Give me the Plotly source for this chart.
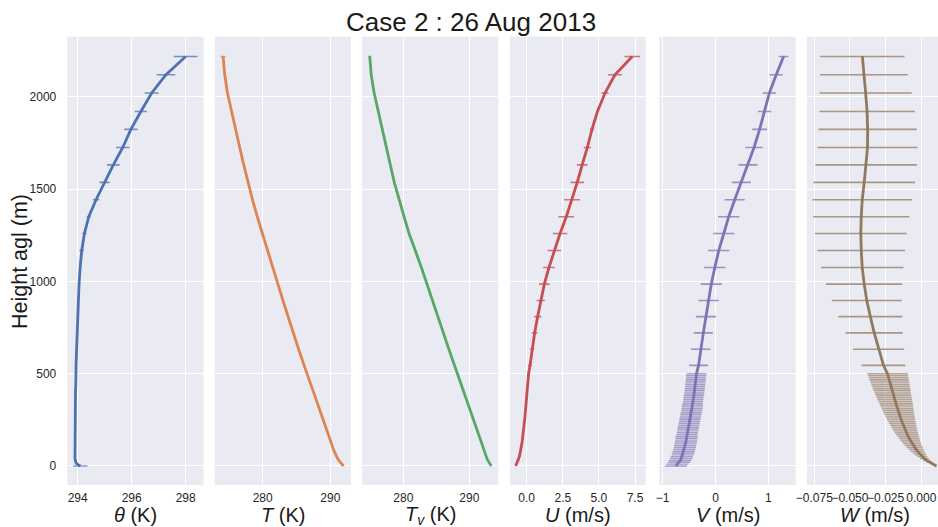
import plotly.graph_objects as go
from plotly.subplots import make_subplots

# Model levels (m above ground): 10 m spacing in the lowest 500 m, stretched above
HEIGHT = [0, 10, 20, 30, 40, 50, 60, 70, 80, 90, 100, 110, 120, 130, 140, 150, 160, 170,
          180, 190, 200, 210, 220, 230, 240, 250, 260, 270, 280, 290, 300, 310, 320, 330,
          340, 350, 360, 370, 380, 390, 400, 410, 420, 430, 440, 450, 460, 470, 480, 490,
          500, 545, 632, 721, 809, 896, 985, 1075, 1167, 1259, 1350, 1442, 1536, 1631,
          1725, 1823, 1920, 2020, 2119, 2218]
N_LOW = 51  # number of levels in the finely spaced surface layer

THETA = [294.10, 293.98, 293.93, 293.91, 293.90, 293.90, 293.90, 293.90, 293.90, 293.90,
         293.90, 293.90, 293.90, 293.90, 293.90, 293.90, 293.91, 293.91, 293.91, 293.91,
         293.91, 293.91, 293.91, 293.91, 293.91, 293.91, 293.91, 293.91, 293.91, 293.91,
         293.91, 293.92, 293.92, 293.92, 293.92, 293.92, 293.92, 293.92, 293.92, 293.92,
         293.92, 293.92, 293.92, 293.93, 293.93, 293.93, 293.93, 293.93, 293.93, 293.93,
         293.93, 293.94, 293.96, 293.98, 294.00, 294.02, 294.05, 294.09, 294.15, 294.25,
         294.41, 294.68, 294.99, 295.32, 295.67, 295.97, 296.34, 296.74, 297.27, 298.00]
THETA_ERR = [0.27] + [0.01] * 50 + [0.02, 0.02, 0.025, 0.025, 0.03, 0.035, 0.04, 0.087, 0.08,
                                      0.074, 0.117, 0.185, 0.235, 0.246, 0.246, 0.228, 0.26,
                                      0.346, 0.44]

T = [291.96, 291.68, 291.45, 291.25, 291.08, 290.93, 290.80, 290.68, 290.57, 290.47,
     290.37, 290.27, 290.18, 290.08, 289.99, 289.90, 289.80, 289.71, 289.62, 289.53,
     289.44, 289.34, 289.25, 289.16, 289.06, 288.96, 288.87, 288.77, 288.67, 288.57,
     288.48, 288.38, 288.28, 288.19, 288.09, 287.99, 287.90, 287.80, 287.70, 287.61,
     287.51, 287.41, 287.32, 287.22, 287.12, 287.03, 286.93, 286.83, 286.74, 286.64,
     286.54, 286.12, 285.31, 284.49, 283.72, 282.99, 282.25, 281.48, 280.70, 279.91,
     279.20, 278.49, 277.80, 277.20, 276.60, 275.98, 275.37, 274.79, 274.39, 274.14]
T_ERR = [0.0] * 68 + [0.12, 0.37]

TV = [293.33, 293.12, 292.95, 292.80, 292.67, 292.56, 292.46, 292.36, 292.27, 292.20,
      292.10, 292.00, 291.91, 291.81, 291.71, 291.61, 291.51, 291.41, 291.32, 291.22,
      291.12, 291.02, 290.92, 290.83, 290.73, 290.63, 290.53, 290.43, 290.33, 290.23,
      290.13, 290.03, 289.93, 289.83, 289.73, 289.63, 289.53, 289.43, 289.33, 289.23,
      289.14, 289.04, 288.94, 288.84, 288.74, 288.64, 288.54, 288.44, 288.34, 288.24,
      288.14, 287.72, 286.90, 286.07, 285.25, 284.45, 283.63, 282.74, 281.81, 280.87,
      280.11, 279.35, 278.63, 278.03, 277.43, 276.81, 276.19, 275.58, 275.14, 274.91]
TV_ERR = [0.0] * 68 + [0.08, 0.25]

U = [-0.76, -0.70, -0.64, -0.59, -0.55, -0.51, -0.48, -0.45, -0.42, -0.40,
     -0.38, -0.36, -0.34, -0.32, -0.30, -0.29, -0.27, -0.26, -0.24, -0.23,
     -0.21, -0.20, -0.18, -0.17, -0.16, -0.14, -0.13, -0.12, -0.10, -0.09,
     -0.08, -0.07, -0.06, -0.05, -0.04, -0.03, -0.02, -0.01, 0.00, 0.01,
     0.02, 0.03, 0.04, 0.05, 0.06, 0.07, 0.08, 0.09, 0.11, 0.12,
     0.13, 0.23, 0.37, 0.55, 0.76, 0.97, 1.22, 1.54, 1.91, 2.31,
     2.74, 3.14, 3.50, 3.84, 4.20, 4.52, 4.90, 5.42, 6.11, 7.31]
U_ERR = [0.0, 0.0, 0.005, 0.005, 0.005, 0.01, 0.01, 0.01, 0.01, 0.01,
         0.01, 0.01, 0.01, 0.01, 0.01, 0.01, 0.01, 0.01, 0.01, 0.01,
         0.015, 0.015, 0.015, 0.02, 0.02, 0.02, 0.02, 0.025, 0.025, 0.025,
         0.03, 0.03, 0.03, 0.035, 0.035, 0.035, 0.04, 0.04, 0.04, 0.045,
         0.045, 0.05, 0.05, 0.055, 0.055, 0.06, 0.06, 0.065, 0.07, 0.075,
         0.08, 0.12, 0.15, 0.20, 0.25, 0.29, 0.37, 0.40, 0.47, 0.50,
         0.54, 0.55, 0.46, 0.37, 0.25, 0.14, 0.05, 0.25, 0.48, 0.54]

V = [-0.75, -0.72, -0.69, -0.67, -0.65, -0.64, -0.62, -0.61, -0.60, -0.59,
     -0.58, -0.575, -0.57, -0.56, -0.555, -0.55, -0.545, -0.54, -0.53, -0.525,
     -0.52, -0.513, -0.506, -0.50, -0.493, -0.486, -0.479, -0.472, -0.465, -0.458,
     -0.45, -0.445, -0.44, -0.435, -0.43, -0.425, -0.42, -0.415, -0.41, -0.405,
     -0.40, -0.396, -0.392, -0.388, -0.384, -0.38, -0.376, -0.372, -0.368, -0.364,
     -0.36, -0.32, -0.28, -0.23, -0.18, -0.13, -0.08, -0.013, 0.062, 0.157,
     0.25, 0.364, 0.49, 0.615, 0.73, 0.836, 0.93, 1.02, 1.15, 1.29]
V_ERR = [0.21, 0.21, 0.21, 0.21, 0.21, 0.21, 0.21, 0.21, 0.21, 0.21,
         0.21, 0.21, 0.21, 0.21, 0.21, 0.21, 0.21, 0.20, 0.20, 0.20,
         0.20, 0.20, 0.20, 0.20, 0.20, 0.20, 0.20, 0.20, 0.20, 0.20,
         0.20, 0.20, 0.20, 0.20, 0.19, 0.19, 0.19, 0.19, 0.19, 0.19,
         0.19, 0.19, 0.19, 0.19, 0.19, 0.19, 0.19, 0.19, 0.19, 0.19,
         0.19, 0.18, 0.185, 0.18, 0.19, 0.195, 0.20, 0.20, 0.20, 0.20,
         0.20, 0.19, 0.18, 0.18, 0.165, 0.14, 0.125, 0.125, 0.125, 0.09]

W = [0.0105, 0.0080, 0.0058, 0.0038, 0.0022, 0.0008, -0.0005, -0.0016, -0.0027, -0.0037,
     -0.0046, -0.0055, -0.0063, -0.0071, -0.0078, -0.0085, -0.0092, -0.0098, -0.0104, -0.0110,
     -0.0116, -0.0121, -0.0126, -0.0131, -0.0136, -0.0141, -0.0145, -0.0150, -0.0154, -0.0158,
     -0.0162, -0.0166, -0.0170, -0.0174, -0.0178, -0.0182, -0.0186, -0.0190, -0.0194, -0.0198,
     -0.0201, -0.0205, -0.0209, -0.0212, -0.0216, -0.0219, -0.0223, -0.0226, -0.0230, -0.0233,
     -0.0237, -0.0265, -0.0299, -0.0330, -0.0357, -0.0382, -0.0400, -0.0414, -0.0421, -0.0424,
     -0.0421, -0.0414, -0.0400, -0.0386, -0.0377, -0.0376, -0.0380, -0.0390, -0.0403, -0.0413]
W_ERR = [0.0005, 0.0013, 0.0020, 0.0025, 0.0030, 0.0035, 0.0040, 0.0044, 0.0048, 0.0052,
         0.0056, 0.0060, 0.0063, 0.0066, 0.0069, 0.0072, 0.0075, 0.0078, 0.0081, 0.0084,
         0.0086, 0.0089, 0.0091, 0.0094, 0.0096, 0.0098, 0.0101, 0.0103, 0.0105, 0.0107,
         0.0109, 0.0111, 0.0113, 0.0115, 0.0117, 0.0119, 0.0121, 0.0123, 0.0124, 0.0126,
         0.0128, 0.0129, 0.0131, 0.0132, 0.0134, 0.0135, 0.0137, 0.0138, 0.0139, 0.0140,
         0.0142, 0.0153, 0.0178, 0.0200, 0.0224, 0.0245, 0.0267, 0.0288, 0.0307, 0.0322,
         0.0337, 0.0349, 0.0356, 0.0356, 0.0351, 0.0344, 0.0334, 0.0323, 0.0307, 0.0295]

HEIGHT_TICKS = [0, 500, 1000, 1500, 2000]

PANELS = [
    dict(x=THETA, err=THETA_ERR, color=(76, 114, 176), label="<i>θ</i> (K)",
         ticks=[294, 296, 298], text=["294", "296", "298"]),
    dict(x=T, err=T_ERR, color=(221, 132, 82), label="<i>T</i> (K)",
         ticks=[280, 290], text=["280", "290"]),
    dict(x=TV, err=TV_ERR, color=(85, 168, 104), label="<i>T<sub>v</sub></i> (K)",
         ticks=[280, 290], text=["280", "290"]),
    dict(x=U, err=U_ERR, color=(196, 78, 82), label="<i>U</i> (m/s)",
         ticks=[0, 2.5, 5, 7.5], text=["0.0", "2.5", "5.0", "7.5"]),
    dict(x=V, err=V_ERR, color=(129, 114, 179), label="<i>V</i> (m/s)",
         ticks=[-1, 0, 1], text=["\u22121", "0", "1"]),
    dict(x=W, err=W_ERR, color=(147, 120, 96), label="<i>W</i> (m/s)",
         ticks=[-0.075, -0.05, -0.025, 0.0],
         text=["\u22120.075", "\u22120.050", "\u22120.025", "0.000"]),
]

# layout geometry (figure pixels)
FIG_W, FIG_H = 938, 527
PANEL_PX = [(67.3, 203.5), (214.7, 351.0), (362.0, 498.3),
            (510.0, 645.7), (659.3, 795.7), (807.0, 938.0)]
LABEL_CX = [135.4, 282.8, 430.1, 577.8, 727.5, 875.0]
X_RANGES = [[293.615, 298.66], [272.9, 293.06], [273.74, 294.39],
            [-1.157, 8.24], [-1.064, 1.519], [-0.0801, 0.0117]]
PLOT_TOP, PLOT_BOTTOM = 36.7, 485.0
Y_RANGE = [-103, 2325]

FONT = "Liberation Sans, Arial, DejaVu Sans, sans-serif"
TEXT_COLOR = "#262626"

fig = make_subplots(rows=1, cols=6, shared_yaxes=True, horizontal_spacing=0.01)


def spread_bars(xv, yv, ev, rgb, alpha, thick):
    r, g, b = rgb
    return go.Scatter(
        x=xv, y=yv, mode="markers",
        marker=dict(color="rgba(0,0,0,0)", size=1),
        error_x=dict(type="data", array=ev, color=f"rgba({r},{g},{b},{alpha})",
                     thickness=thick, width=0),
        hoverinfo="skip", showlegend=False)


for i, p in enumerate(PANELS, start=1):
    r, g, b = p["color"]
    # horizontal spread bars first (fine surface layer lighter), then the profile line
    fig.add_trace(spread_bars(p["x"][:N_LOW], HEIGHT[:N_LOW], p["err"][:N_LOW],
                              p["color"], 0.65, 1.4), row=1, col=i)
    fig.add_trace(spread_bars(p["x"][N_LOW:], HEIGHT[N_LOW:], p["err"][N_LOW:],
                              p["color"], 0.75, 1.6), row=1, col=i)
    fig.add_trace(go.Scatter(
        x=p["x"], y=HEIGHT, mode="lines",
        line=dict(color=f"rgb({r},{g},{b})", width=2.8),
        showlegend=False), row=1, col=i)

    x0, x1 = PANEL_PX[i - 1]
    fig.update_xaxes(
        domain=[x0 / FIG_W, x1 / FIG_W], range=X_RANGES[i - 1], automargin=False,
        tickmode="array", tickvals=p["ticks"], ticktext=p["text"], tickangle=0,
        showgrid=True, gridcolor="white", gridwidth=1.2, zeroline=False,
        showline=False, ticks="", ticklabelstandoff=4,
        tickfont=dict(family=FONT, size=12, color=TEXT_COLOR),
        row=1, col=i)

fig.update_yaxes(
    range=Y_RANGE, domain=[1 - PLOT_BOTTOM / FIG_H, 1 - PLOT_TOP / FIG_H],
    automargin=False,
    tickmode="array", tickvals=HEIGHT_TICKS,
    showgrid=True, gridcolor="white", gridwidth=1.2, zeroline=False,
    showline=False, ticks="", ticklabelstandoff=10,
    tickfont=dict(family=FONT, size=12, color=TEXT_COLOR))

annotations = [
    dict(text="Case 2 : 26 Aug 2013", x=471 / FIG_W, y=1 - 22 / FIG_H,
         xref="paper", yref="paper", xanchor="center", yanchor="middle",
         showarrow=False, font=dict(family=FONT, size=26, color="#1a1a1a")),
    dict(text="Height agl (m)", x=20 / FIG_W, y=1 - 262 / FIG_H, textangle=-90,
         xref="paper", yref="paper", xanchor="center", yanchor="middle",
         showarrow=False, font=dict(family=FONT, size=21.5, color="#1a1a1a")),
]
for p, cx in zip(PANELS, LABEL_CX):
    annotations.append(dict(
        text=p["label"], x=cx / FIG_W, y=1 - 515 / FIG_H,
        xref="paper", yref="paper", xanchor="center", yanchor="middle",
        showarrow=False, font=dict(family=FONT, size=20, color="#1a1a1a")))

fig.update_layout(
    width=FIG_W, height=FIG_H,
    margin=dict(l=0, r=0, t=0, b=0, autoexpand=False),
    paper_bgcolor="white", plot_bgcolor="#EAEAF2",
    annotations=annotations,
    showlegend=False,
)

fig.write_html("out.html")
